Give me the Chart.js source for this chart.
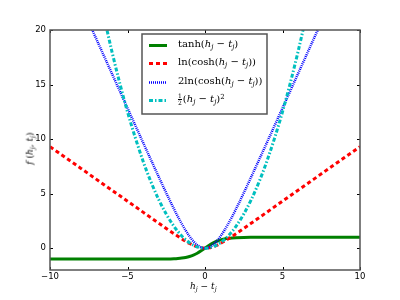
<!DOCTYPE html>
<html>
<head>
<meta charset="utf-8">
<script src="https://cdn.jsdelivr.net/npm/chart.js@4/dist/chart.umd.min.js"></script>
<style>
  html, body { margin:0; padding:0; background:#fff; }
  #wrap { position:relative; width:400px; height:300px; }
  canvas { position:absolute; left:0; top:0; }
  .m { position:absolute; font-family:"DejaVu Serif", serif; font-size:10px; color:#000; white-space:nowrap; line-height:1; z-index:2; }
  .m i { font-style:italic; }
  .m sub { font-size:70%; vertical-align:-0.25em; line-height:0; }
  .m sup { font-size:70%; vertical-align:0.5em; line-height:0; }
  .frac { display:inline-block; vertical-align:middle; text-align:center; font-size:6px; line-height:6px; margin-right:1px; }
  .frac span { display:block; }
  .frac span.n { border-bottom:0.7px solid #000; }
</style>
</head>
<body>
<div id="wrap">
  <canvas id="c" width="400" height="300"></canvas>
  <div class="m" id="l0" style="left:178px; top:39px;">tanh(<i>h</i><sub><i>j</i></sub> − <i>t</i><sub><i>j</i></sub>)</div>
  <div class="m" id="l1" style="left:178px; top:57px;">ln(cosh(<i>h</i><sub><i>j</i></sub> − <i>t</i><sub><i>j</i></sub>))</div>
  <div class="m" id="l2" style="left:178px; top:76px;">2ln(cosh(<i>h</i><sub><i>j</i></sub> − <i>t</i><sub><i>j</i></sub>))</div>
  <div class="m" id="l3" style="left:178px; top:93px;"><span class="frac"><span class="n">1</span><span>2</span></span>(<i>h</i><sub><i>j</i></sub> − <i>t</i><sub><i>j</i></sub>)<sup>2</sup></div>
  <div class="m" style="left:190px; top:282px; font-size:9px;"><i>h</i><sub><i>j</i></sub> − <i>t</i><sub><i>j</i></sub></div>
  <div class="m" style="left:14px; top:144px; font-size:9px; transform:rotate(-90deg); transform-origin:center;"><i>f</i> (<i>h</i><sub><i>j</i></sub>, <i>t</i><sub><i>j</i></sub>)</div>
</div>
<script>
// ---- data ----
const xs = [-10,-9,-8,-7,-6,-5,-4,-3.5,-3,-2.5,-2,-1.75,-1.5,-1.25,-1,-0.75,-0.5,-0.25,0,
            0.25,0.5,0.75,1,1.25,1.5,1.75,2,2.5,3,3.5,4,5,6,7,8,9,10];
const tanhVals = [-1,-1,-1,-0.9999,-0.9999,-0.9999,-0.9993,-0.9982,-0.9951,-0.9866,-0.964,-0.9414,-0.9051,-0.8483,-0.7616,-0.6351,-0.4621,-0.2449,0,
                  0.2449,0.4621,0.6351,0.7616,0.8483,0.9051,0.9414,0.964,0.9866,0.9951,0.9982,0.9993,0.9999,0.9999,0.9999,1,1,1];
const lnCoshVals = [9.3069,8.3069,7.3069,6.3069,5.3069,4.3069,3.3071,2.8078,2.3093,1.8137,1.325,1.0866,0.8554,0.6357,0.4338,0.2583,0.1201,0.031,0,
                    0.031,0.1201,0.2583,0.4338,0.6357,0.8554,1.0866,1.325,1.8137,2.3093,2.8078,3.3071,4.3069,5.3069,6.3069,7.3069,8.3069,9.3069];
const twoLnCoshVals = [28.59,25.44,22.29,19.14,15.99,12.84,9.70,8.14,6.59,5.06,3.59,2.90,2.24,1.63,1.09,0.63,0.29,0.07,0,
                       0.07,0.29,0.63,1.09,1.63,2.24,2.90,3.59,5.06,6.59,8.14,9.70,12.84,15.99,19.14,22.29,25.44,28.59];
const halfSqVals = [50,40.5,32,24.5,18,12.5,8,6.125,4.5,3.125,2,1.53125,1.125,0.78125,0.5,0.28125,0.125,0.03125,0,
                    0.03125,0.125,0.28125,0.5,0.78125,1.125,1.53125,2,3.125,4.5,6.125,8,12.5,18,24.5,32,40.5,50];
const seriesLabels = ['tanh(h_j - t_j)','ln(cosh(h_j - t_j))','2ln(cosh(h_j - t_j))','1/2(h_j - t_j)^2'];
const xTicks = [-10,-5,0,5,10];
const yTicks = [0,5,10,15,20];

const pts = vals => xs.map((x,i)=>({x:x, y:vals[i]}));
const frameColor = '#555';

const framePlugin = {
  id:'frame',
  afterDatasetsDraw(chart){
    const {ctx, chartArea:a, scales:{x, y}} = chart;
    ctx.save();
    ctx.strokeStyle = '#000'; ctx.lineWidth = 1;
    const L = 3;
    xTicks.forEach(v=>{
      const px = Math.round(x.getPixelForValue(v))+0.5;
      ctx.beginPath(); ctx.moveTo(px,a.bottom); ctx.lineTo(px,a.bottom-L);
      ctx.moveTo(px,a.top); ctx.lineTo(px,a.top+L); ctx.stroke();
    });
    yTicks.forEach(v=>{
      const py = Math.round(y.getPixelForValue(v))+0.5;
      ctx.beginPath(); ctx.moveTo(a.left,py); ctx.lineTo(a.left+L,py);
      ctx.moveTo(a.right,py); ctx.lineTo(a.right-L,py); ctx.stroke();
    });
    ctx.strokeStyle = frameColor; ctx.lineWidth = 1.5;
    ctx.strokeRect(a.left, a.top, a.right-a.left, a.bottom-a.top);
    const bx = 142, by = 34, bw = 125, bh = 80;
    ctx.fillStyle = '#fff';
    ctx.fillRect(bx, by, bw, bh);
    ctx.strokeStyle = frameColor; ctx.lineWidth = 1.5;
    ctx.strokeRect(bx, by, bw, bh);
    const rows = [45, 63, 82, 100];
    chart.data.datasets.forEach((ds,i)=>{
      ctx.strokeStyle = ds.borderColor;
      ctx.lineWidth = ds.borderWidth;
      ctx.setLineDash(ds.borderDash || []);
      ctx.beginPath(); ctx.moveTo(149, rows[i]+0.5); ctx.lineTo(167, rows[i]+0.5); ctx.stroke();
    });
    ctx.restore();
  }
};

const minusFmt = v => String(v).replace('-', '\u2212');

new Chart(document.getElementById('c'), {
  type:'line',
  data:{
    datasets:[
      {label:seriesLabels[0], data:pts(tanhVals), borderColor:'#008000', borderWidth:3, order:4},
      {label:seriesLabels[1], data:pts(lnCoshVals), borderColor:'#ff0000', borderWidth:3, borderDash:[4,3], order:3},
      {label:seriesLabels[2], data:pts(twoLnCoshVals), borderColor:'#0000ff', borderWidth:2.5, borderDash:[1,1], order:2},
      {label:seriesLabels[3], data:pts(halfSqVals), borderColor:'#00bfbf', borderWidth:3, borderDash:[4,2,1.5,2], order:1}
    ]
  },
  options:{
    responsive:false, animation:false, devicePixelRatio:1,
    layout:{padding:{top:30, right:40, left:0, bottom:0}},
    elements:{point:{radius:0}, line:{cubicInterpolationMode:'monotone', fill:false}},
    plugins:{legend:{display:false}, tooltip:{enabled:false}},
    scales:{
      x:{type:'linear', min:-10, max:10,
         grid:{display:false, drawTicks:false, tickLength:0}, border:{display:false},
         afterBuildTicks:s=>{ s.ticks = xTicks.map(v=>({value:v})); },
         afterFit:s=>{ s.height = 30; },
         ticks:{padding:2, color:'#000', font:{family:'DejaVu Sans', size:8.5}, maxRotation:0, callback:minusFmt}},
      y:{type:'linear', min:-2, max:20,
         grid:{display:false, drawTicks:false, tickLength:0}, border:{display:false},
         afterBuildTicks:s=>{ s.ticks = yTicks.map(v=>({value:v})); },
         afterFit:s=>{ s.width = 50; },
         ticks:{padding:4, color:'#000', font:{family:'DejaVu Sans', size:8.5}, callback:minusFmt}}
    }
  },
  plugins:[framePlugin]
});
</script>
</body>
</html>
